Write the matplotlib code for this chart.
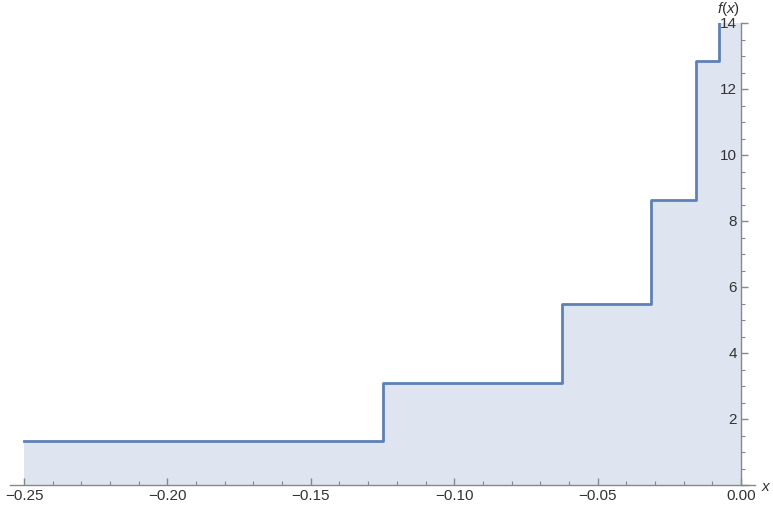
import numpy as np
import matplotlib.pyplot as plt
from matplotlib.ticker import MultipleLocator, FuncFormatter

plt.rcParams['font.family'] = ['Liberation Sans', 'DejaVu Sans']
plt.rcParams['mathtext.fontset'] = 'custom'
plt.rcParams['mathtext.rm'] = 'Liberation Sans'
plt.rcParams['mathtext.it'] = 'Liberation Sans:italic'

# step edges and levels
edges = [-0.25, -0.125, -0.0625, -0.03125, -0.015625, -0.0078125, 0.0]
levels = [1.33, 3.09, 5.48, 8.64, 12.85, 18.0]
xticks = [-0.25, -0.20, -0.15, -0.10, -0.05, 0.00]

linecol = '#5E81B5'
axcol = '#888888'
txtcol = '#333333'

fig = plt.figure(figsize=(7.73, 5.13), dpi=100)
W, H = 773, 513
x0, x1 = -0.255, 0.005
ppx = (741 - 24) / 0.25
left = 24 - (-0.25 - x0) * ppx
right = 741 + (x1 - 0) * ppx
ax = fig.add_axes([left / W, (H - 485) / H, (right - left) / W, (485 - 23) / H])

xs = np.array(edges)
ys = np.array(levels + [levels[-1]])
ax.fill_between(xs, 0, ys, step='post', color=linecol, alpha=0.2, lw=0)
ax.step(xs, ys, where='post', color=linecol, lw=2.0)

ax.set_xlim(x0, x1)
ax.set_ylim(0, 14)

for s in ['top', 'right']:
    ax.spines[s].set_visible(False)
ax.spines['left'].set_position(('data', 0))
ax.spines['bottom'].set_position(('data', 0))
for s in ['left', 'bottom']:
    ax.spines[s].set_color(axcol)
    ax.spines[s].set_linewidth(1.0)

ax.set_xticks(xticks)
ax.xaxis.set_minor_locator(MultipleLocator(0.01))
ax.yaxis.set_major_locator(MultipleLocator(2))
ax.yaxis.set_minor_locator(MultipleLocator(0.5))
ax.xaxis.set_major_formatter(FuncFormatter(lambda v, p: ('%.2f' % v).replace('-', '\u2212')))
ax.yaxis.set_major_formatter(FuncFormatter(lambda v, p: '' if v == 0 else '%d' % v))

ax.tick_params(axis='both', which='both', direction='in', color=axcol, labelcolor=txtcol, labelsize=11)
ax.tick_params(axis='both', which='major', length=5, width=1)
ax.tick_params(axis='both', which='minor', length=3, width=0.8)
ax.tick_params(axis='x', pad=3)
ax.tick_params(axis='y', pad=3)

fig.text(761 / W, 1 - 487 / H, '$x$', ha='left', va='center', fontsize=11, color=txtcol)
fig.text(729 / W, 1 - 9 / H, '$f(x)$', ha='center', va='center', fontsize=11, color=txtcol)

fig.savefig('out.png', dpi=100)
